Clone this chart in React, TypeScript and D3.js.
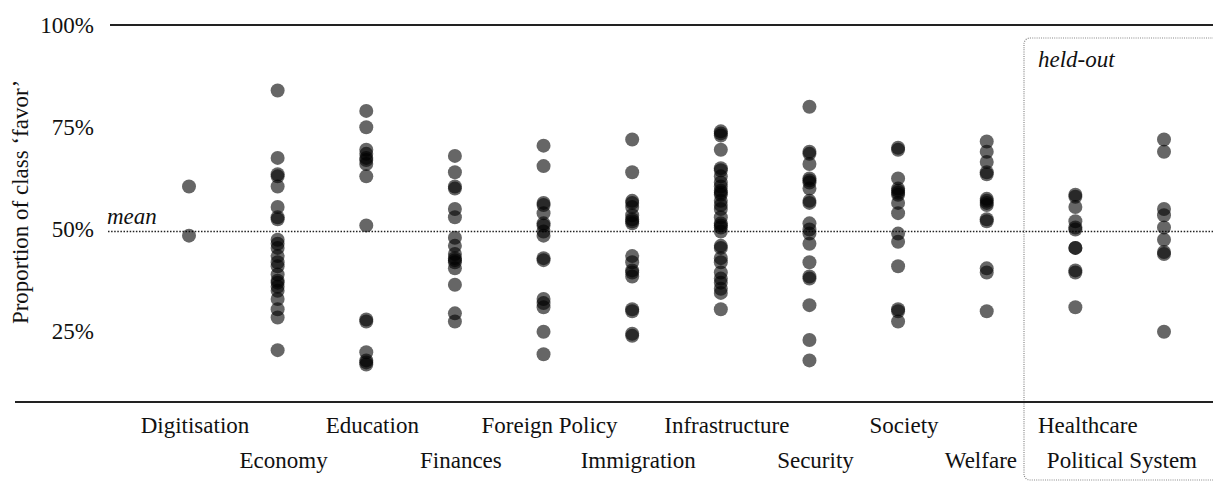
import React from "react";
import * as d3 from "d3";

const categories = [
  "Digitisation", "Economy", "Education", "Finances", "Foreign Policy", "Immigration",
  "Infrastructure", "Security", "Society", "Welfare", "Healthcare", "Political System",
];
const heldOut = ["Healthcare", "Political System"];

const digitisation = [60.5, 48.5];
const economy = [84, 67.5, 63.5, 63, 60.5, 55.5, 53, 52.5, 47.5, 46.5, 45.5, 43.5, 42, 41, 39, 37.5, 37, 36, 35, 33, 30.5, 28.5, 20.5];
const education = [79, 75, 69.5, 68.5, 67.5, 67, 66, 63, 51, 28, 27.5, 20, 18, 17.5, 17];
const finances = [68, 64, 60.5, 60, 55, 53, 48, 46, 44, 43, 42.5, 42, 40.5, 36.5, 29.5, 27.5];
const foreignPolicy = [70.5, 65.5, 56.5, 56, 54, 51.5, 51, 49.5, 48.5, 43, 42.5, 33, 32, 31, 25, 19.5];
const immigration = [72, 64, 57, 56.5, 55.5, 53.5, 52.5, 52, 51.5, 43.5, 42, 40, 39.5, 38.5, 30.5, 30, 24.5, 24];
const infrastructure = [74, 73.5, 73, 69.5, 65, 64.5, 63, 61.5, 60.5, 59.5, 59, 58.5, 57, 56, 55, 53, 51.5, 51, 50.5, 49.5, 46, 45.5, 43, 42, 39.5, 38, 37, 35.5, 34.5, 30.5];
const security = [80, 69, 68.5, 66, 62.5, 62, 61.5, 60, 57, 56.5, 51.5, 50, 49, 46.5, 42, 38.5, 38, 31.5, 23, 18];
const society = [70, 69.5, 62.5, 60, 59.5, 59, 58.5, 56.5, 54, 49, 47, 41, 30.5, 30, 27.5];
const welfare = [71.5, 69, 66.5, 64, 63.5, 57.5, 57, 56.5, 56, 52.5, 52, 40.5, 39.5, 30];
const healthcare = [58.5, 58, 55.5, 52, 50.5, 50, 45.5, 45.5, 40, 39.5, 31];
const politicalSystem = [72, 69, 55, 53.5, 50.5, 47.5, 44.5, 44, 25];

const seriesValues = [
  digitisation, economy, education, finances, foreignPolicy, immigration,
  infrastructure, security, society, welfare, healthcare, politicalSystem,
];

const yTicks = [25, 50, 75, 100];
const meanValue = 49.5;

const W = 1213;
const H = 481;
const FONT = "'Liberation Serif', 'Times New Roman', serif";

export default function App() {
  const y = d3.scaleLinear().domain([0, 100]).range([434, 25]);
  const x = d3.scalePoint<string>().domain(categories).range([189, 1164]);

  const boxX = 1024;
  const boxY = 38;

  const points = categories.flatMap((c, i) => seriesValues[i].map((v, j) => ({ c, v, key: `${i}-${j}` })));

  const labelProps = (c: string, i: number) => {
    const row = i % 2;
    const yy = row === 0 ? 433 : 468;
    const cx = x(c) as number;
    if (c === "Healthcare") return { x: boxX + 14, y: yy, anchor: "start" };
    if (c === "Political System") return { x: W - 16, y: yy, anchor: "end" };
    if (c === "Welfare") return { x: boxX - 7, y: yy, anchor: "end" };
    return { x: cx + 6, y: yy, anchor: "middle" };
  };

  return (
    <svg width={W} height={H} style={{ position: "absolute", left: 0, top: 0, background: "#fff" }} fontFamily={FONT}>
      {/* held-out box */}
      <rect x={boxX} y={boxY} width={260} height={442} rx={6} ry={6} fill="none"
        stroke="#888" strokeWidth={1.2} strokeDasharray="1 1.2" />
      <text x={boxX + 14} y={67} fontSize={23} fontStyle="italic" fill="#111">held-out</text>

      {/* top line */}
      <line x1={110} x2={W} y1={y(100)} y2={y(100)} stroke="#222" strokeWidth={1.8} />
      {/* bottom axis line */}
      <line x1={15} x2={W} y1={402} y2={402} stroke="#222" strokeWidth={1.8} />

      {/* mean line */}
      <line x1={108} x2={W} y1={y(meanValue)} y2={y(meanValue)} stroke="#222" strokeWidth={1.5} strokeDasharray="1.5 1.6" />
      <text x={107} y={224} fontSize={23} fontStyle="italic" fill="#111">mean</text>

      {/* y ticks */}
      {yTicks.map((t) => (
        <text key={t} x={94} y={y(t) + 7.5} fontSize={23} textAnchor="end" fill="#111">{`${t}%`}</text>
      ))}

      {/* y label */}
      <text transform={`translate(28,202) rotate(-90)`} fontSize={23} textAnchor="middle" fill="#111">
        Proportion of class ‘favor’
      </text>

      {/* points */}
      {points.map((p) => (
        <circle key={p.key} cx={x(p.c) as number} cy={y(p.v)} r={7} fill="#000" fillOpacity={0.6} />
      ))}

      {/* category labels */}
      {categories.map((c, i) => {
        const lp = labelProps(c, i);
        return (
          <text key={c} x={lp.x} y={lp.y} fontSize={23} textAnchor={lp.anchor as any} fill="#111">{c}</text>
        );
      })}
    </svg>
  );
}
